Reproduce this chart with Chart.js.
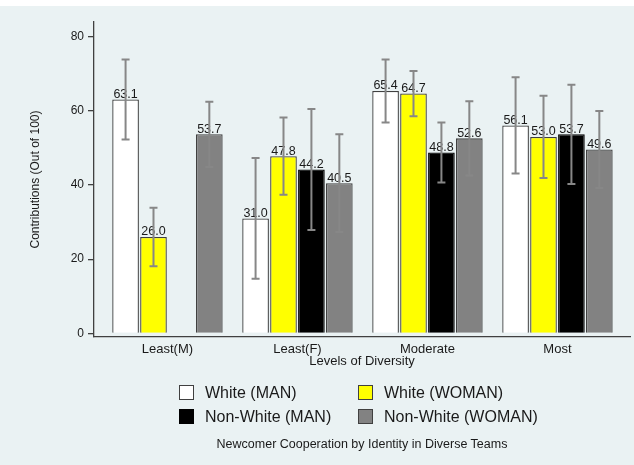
<!DOCTYPE html>
<html>
<head>
<meta charset="utf-8">
<script src="https://cdn.jsdelivr.net/npm/chart.js@4/dist/chart.umd.min.js"></script>
<style>
  html, body { margin: 0; padding: 0; background: #fff; }
  #frame { position: absolute; left: 0; top: 6px; width: 634px; height: 459px; background: rgb(234, 242, 243); overflow: hidden; }
  #chart { position: absolute; left: 0; top: 0; }
  #legend { position: absolute; left: 179px; top: 379px; display: grid; grid-template-columns: 179px 179px; grid-auto-rows: 24px;
            font: 16px "Liberation Sans", Arial, sans-serif; color: #1a1a1a; }
  .item { display: flex; align-items: flex-start; line-height: 16px; white-space: nowrap; }
  .box { width: 15px; height: 15px; box-sizing: border-box; border: 1.3px solid #404040; margin-right: 11px; flex: none; }
  #caption { position: absolute; left: 94px; width: 536px; top: 431px; text-align: center;
             font: 12.5px "Liberation Sans", Arial, sans-serif; line-height: 14px; color: #1a1a1a; }
</style>
</head>
<body>
<div id="frame">
  <canvas id="chart" width="634" height="459"></canvas>
  <div id="legend"></div>
  <div id="caption">Newcomer Cooperation by Identity in Diverse Teams</div>
</div>
<script>
// Categories and tick labels
const categories = ['Least(M)', 'Least(F)', 'Moderate', 'Most'];
const yTicks = [0, 20, 40, 60, 80];

// Mean contributions per group
const whiteMan = [63.1, 31.0, 65.4, 56.1];
const whiteWoman = [26.0, 47.8, 64.7, 53.0];
const nonWhiteMan = [null, 44.2, 48.8, 53.7];
const nonWhiteWoman = [53.7, 40.5, 52.6, 49.6];

// Half-width of the confidence intervals
const whiteManErr = [10.8, 16.3, 8.5, 13.0];
const whiteWomanErr = [7.9, 10.4, 6.1, 11.1];
const nonWhiteManErr = [null, 16.3, 8.1, 13.4];
const nonWhiteWomanErr = [8.8, 13.2, 10.0, 10.4];

const FONT = '"Liberation Sans", Arial, sans-serif';
const errors = [whiteManErr, whiteWomanErr, nonWhiteManErr, nonWhiteWomanErr];

function toPoints(values) {
    return values.map((v, i) => ({ x: i + 1, y: v }));
}

// Value labels above bars, then the error bars on top
const barExtras = {
    id: 'barExtras',
    afterDatasetsDraw(chart) {
        const ctx = chart.ctx;
        const yScale = chart.scales.y;
        ctx.save();
        ctx.font = '12.5px ' + FONT;
        ctx.fillStyle = '#1a1a1a';
        ctx.textAlign = 'center';
        ctx.textBaseline = 'alphabetic';
        chart.data.datasets.forEach((ds, di) => {
            chart.getDatasetMeta(di).data.forEach((bar, i) => {
                const v = ds.data[i].y;
                if (v == null) return;
                ctx.fillText(v.toFixed(1), bar.x, bar.y - 1.5);
            });
        });
        ctx.strokeStyle = '#878787';
        ctx.lineWidth = 2;
        chart.data.datasets.forEach((ds, di) => {
            chart.getDatasetMeta(di).data.forEach((bar, i) => {
                const v = ds.data[i].y;
                const e = errors[di][i];
                if (v == null || e == null) return;
                const top = yScale.getPixelForValue(v + e);
                const bot = yScale.getPixelForValue(v - e);
                ctx.beginPath();
                ctx.moveTo(bar.x, top);
                ctx.lineTo(bar.x, bot);
                ctx.moveTo(bar.x - 4, top);
                ctx.lineTo(bar.x + 4, top);
                ctx.moveTo(bar.x - 4, bot);
                ctx.lineTo(bar.x + 4, bot);
                ctx.stroke();
            });
        });
        ctx.restore();
    }
};

const chart = new Chart(document.getElementById('chart'), {
    type: 'bar',
    data: {
        datasets: [
            { label: 'White (MAN)', data: toPoints(whiteMan), backgroundColor: '#ffffff', borderColor: '#404040', borderWidth: 1.3 },
            { label: 'White (WOMAN)', data: toPoints(whiteWoman), backgroundColor: '#ffff00', borderColor: '#404040', borderWidth: 1.3 },
            { label: 'Non-White (MAN)', data: toPoints(nonWhiteMan), backgroundColor: '#000000', borderColor: '#000000', borderWidth: 1.3 },
            { label: 'Non-White (WOMAN)', data: toPoints(nonWhiteWoman), backgroundColor: '#828282', borderColor: '#404040', borderWidth: 1.3 }
        ]
    },
    options: {
        responsive: false,
        animation: false,
        layout: { padding: { top: 16, right: 4, bottom: 96, left: 0 } },
        datasets: { bar: { categoryPercentage: 0.859, barPercentage: 0.955 } },
        plugins: {
            legend: { display: false },
            tooltip: { enabled: false }
        },
        scales: {
            x: {
                type: 'linear',
                offset: false,
                bounds: 'data',
                min: 0.435,
                max: 4.558,
                afterBuildTicks: s => { s.ticks = categories.map((c, i) => ({ value: i + 1 })); },
                afterFit: s => { s.height = 32; },
                ticks: {
                    callback: v => categories[v - 1],
                    font: { family: FONT, size: 13 },
                    color: '#1a1a1a',
                    padding: 5,
                    autoSkip: false,
                    maxRotation: 0
                },
                grid: { display: false, drawTicks: false },
                border: { display: true, color: '#404040', width: 1.3 },
                title: { display: true, text: 'Levels of Diversity', font: { family: FONT, size: 13 }, color: '#1a1a1a', padding: 0 }
            },
            y: {
                min: -1,
                max: 84,
                afterBuildTicks: s => { s.ticks = yTicks.map(v => ({ value: v })); },
                afterFit: s => { s.width = 94; },
                ticks: { font: { family: FONT, size: 12 }, color: '#1a1a1a', padding: 4 },
                grid: { drawOnChartArea: false, drawTicks: true, tickLength: 6, color: '#404040', lineWidth: 1.3 },
                border: { display: true, color: '#404040', width: 1.3 },
                title: { display: true, text: 'Contributions (Out of 100)', font: { family: FONT, size: 12 }, color: '#1a1a1a', padding: { top: 28, bottom: 0 } }
            }
        }
    },
    plugins: [barExtras]
});

// HTML legend in two columns, built from the datasets
const legend = document.getElementById('legend');
chart.data.datasets.forEach(ds => {
    const item = document.createElement('div');
    item.className = 'item';
    const box = document.createElement('span');
    box.className = 'box';
    box.style.background = ds.backgroundColor;
    if (ds.backgroundColor === '#000000') box.style.borderColor = '#000000';
    const text = document.createElement('span');
    text.textContent = ds.label;
    item.appendChild(box);
    item.appendChild(text);
    legend.appendChild(item);
});
</script>
</body>
</html>
